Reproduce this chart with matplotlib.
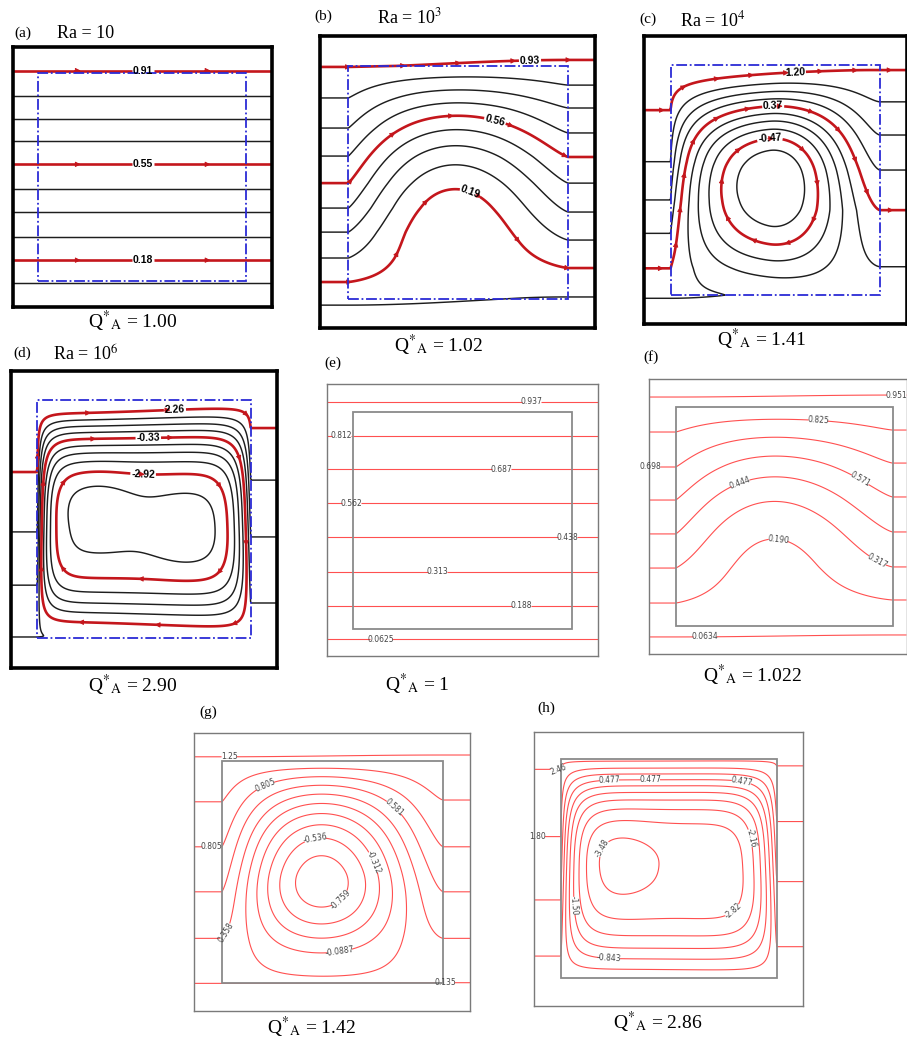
import numpy as np
import matplotlib
matplotlib.use("Agg")
import matplotlib.pyplot as plt
from matplotlib.patches import Rectangle

plt.rcParams['font.family'] = ['Liberation Serif', 'DejaVu Serif']
plt.rcParams['mathtext.fontset'] = 'stix'
plt.rcParams['contour.negative_linestyle'] = 'solid'

W, H = 907, 1038

# ---- values ----
# y of each streamline where it meets the left / right side (box height = 1)
a_levels = [0.09, 0.18, 0.27, 0.36, 0.45, 0.55, 0.64, 0.73, 0.82, 0.91]
a_left_y = [-0.01, 0.10, 0.21, 0.33, 0.44, 0.56, 0.67, 0.78, 0.89, 1.01]
a_red = [0.18, 0.55, 0.91]

b_levels = [0.10, 0.19, 0.28, 0.375, 0.47, 0.56, 0.65, 0.745, 0.84, 0.93]
b_left_y = [-0.025, 0.074, 0.177, 0.288, 0.391, 0.498, 0.614, 0.734, 0.863, 0.996]
b_right_y = [0.01, 0.134, 0.254, 0.374, 0.498, 0.61, 0.713, 0.82, 0.918, 1.026]
b_red = [0.19, 0.56, 0.93]

c_levels = [-0.68, -0.47, -0.26, -0.05, 0.16, 0.37, 0.58, 0.785, 0.99, 1.20]
c_through = [0.16, 0.37, 0.58, 0.785, 0.99, 1.20]
c_left_y = [-0.013, 0.117, 0.269, 0.414, 0.58, 0.804]
c_right_y = [0.124, 0.37, 0.544, 0.696, 0.84, 0.978]
c_red = [-0.47, 0.37, 1.20]

d_levels = [-3.57, -2.92, -2.27, -1.62, -0.98, -0.33, 0.32, 0.97, 1.61, 2.26]
d_through = [0.32, 0.97, 1.61, 2.26]
d_left_y = [0.003, 0.221, 0.445, 0.697]
d_right_y = [0.146, 0.424, 0.663, 0.882]
d_red = [-2.92, -0.33, 2.26]

e_levels = [0.0625, 0.1875, 0.3125, 0.4375, 0.5625, 0.6875, 0.8125, 0.9375]
e_text = ['0.0625', '0.188', '0.313', '0.438', '0.562', '0.687', '0.812', '0.937']
e_left_y = [-0.047, 0.107, 0.264, 0.422, 0.578, 0.736, 0.89, 1.046]

f_levels = [0.0634, 0.190, 0.317, 0.444, 0.571, 0.698, 0.825, 0.951]
f_text = ['0.0634', '0.190', '0.317', '0.444', '0.571', '0.698', '0.825', '0.951']
f_left_y = [-0.05, 0.105, 0.265, 0.421, 0.576, 0.727, 0.887, 1.047]
f_right_y = [-0.041, 0.119, 0.27, 0.43, 0.59, 0.745, 0.896, 1.056]

g_levels = [-0.759, -0.536, -0.312, -0.0887, 0.135, 0.358, 0.581, 0.805, 1.03, 1.25]
g_text = ['-0.759', '-0.536', '-0.312', '-0.0887', '0.135', '0.358', '0.581', '0.805', '1.03', '1.25']
g_through = [0.135, 0.358, 0.581, 0.805, 1.03, 1.25]
g_left_y = [-0.003, 0.20, 0.41, 0.613, 0.816, 1.019]
g_right_y = [0.0, 0.20, 0.41, 0.613, 0.824, 1.027]

h_levels = [-3.48, -2.82, -2.16, -1.50, -0.843, -0.183, 0.477, 1.14, 1.80, 2.46]
h_text = ['-3.48', '-2.82', '-2.16', '-1.50', '-0.843', '-0.183', '0.477', '1.14', '1.80', '2.46']
h_through = [0.477, 1.14, 1.80, 2.46]
h_left_y = [0.099, 0.356, 0.646, 0.954]
h_right_y = [0.142, 0.44, 0.715, 0.97]

titles = ['(a)', '(b)', '(c)', '(d)', '(e)', '(f)', '(g)', '(h)']
ra_text = ['Ra = 10', r'Ra = 10$^{3}$', r'Ra = 10$^{4}$', r'Ra = 10$^{6}$']
q_values = ['1.00', '1.02', '1.41', '2.90', '1', '1.022', '1.42', '2.86']

# ---- layout: outer frame and porous box in pixels (x0, y0, x1, y1) ----
OUTER = [(12.7, 47.3, 271.7, 307.3), (320, 36, 595, 328), (644, 36, 906.5, 324),
         (10.7, 370.7, 276.7, 668.3), (326.7, 384, 598.3, 656), (649, 379.3, 906.5, 654),
         (194.3, 732.7, 470, 1011), (534.3, 731.7, 803.3, 1006)]
INNER = [(38.3, 72.7, 245.7, 281), (348.3, 66, 568.3, 299.3), (670.7, 65, 880, 295.3),
         (37.3, 400, 250.7, 637.7), (353.3, 411.7, 571.7, 629), (675.7, 407.3, 892.7, 626),
         (221.7, 761, 443.3, 982.7), (560.7, 759.3, 776.7, 977.7)]
TITLE_XY = [(23, 33), (323, 16), (648, 19), (22, 353), (333, 363), (651, 357), (208, 712), (546, 708)]
RA_XY = [(57, 33), (377, 17), (680, 20), (53, 355)]
CAP_XY = [(133, 321), (439, 345), (762, 339), (133, 685), (417, 684), (752, 675), (312, 1027), (658, 1022)]


def lin_interp(y, yp, fp):
    yp = np.asarray(yp, float)
    fp = np.asarray(fp, float)
    out = np.interp(y, yp, fp)
    out = np.where(y < yp[0], fp[0] + (y - yp[0]) * (fp[1] - fp[0]) / (yp[1] - yp[0]), out)
    out = np.where(y > yp[-1], fp[-1] + (y - yp[-1]) * (fp[-1] - fp[-2]) / (yp[-1] - yp[-2]), out)
    return out


def through(X, Y, lev, yl, yr):
    L = lin_interp(Y, yl, lev)
    R = lin_interp(Y, yr, lev)
    s = np.clip(X, 0, 1)
    w = s * s * (3 - 2 * s)
    return (1 - w) * L + w * R


def side_pow(base, t, p):
    return np.where(t < 0.5, base ** p[0], base ** p[1])


def cell_shape(X, Y, xc, yc, kind, m, px, py):
    inside = (X > 0) & (X < 1) & (Y > 0) & (Y < 1)
    xs = np.clip(X, 1e-9, 1) ** (np.log(0.5) / np.log(xc))
    ys = np.clip(Y, 1e-9, 1) ** (np.log(0.5) / np.log(yc))
    if kind == 'sin':
        F = np.clip(np.sin(np.pi * xs), 0, 1)
        G = np.clip(np.sin(np.pi * ys), 0, 1)
    else:
        F = np.clip(1 - np.abs(2 * xs - 1) ** m[0], 0, 1)
        G = np.clip(1 - np.abs(2 * ys - 1) ** m[1], 0, 1)
    F = side_pow(F, xs, px)
    G = side_pow(G, ys, py)
    return np.where(inside, F * G, 0.0)


def stream(X, Y, lev, yl, yr, amp=0.0, xc=0.5, yc=0.5, kind='sin', m=(2, 2),
           px=(1, 1), py=(1, 1), s=0.0, lobes=()):
    T = through(X, Y, lev, yl, yr)
    if amp == 0:
        return T
    S = cell_shape(X, Y, xc, yc, kind, m, px, py)
    Tc = through(np.array(xc), np.array(yc), lev, yl, yr)
    M = np.ones_like(X)
    for (lx, ly, r, hgt) in lobes:
        M += hgt * np.exp(-((X - lx) ** 2 + (Y - ly) ** 2) / r ** 2)
    return T + S * (s * (Tc - T) - amp * M)


def make_axes(fig, k):
    ox0, oy0, ox1, oy1 = OUTER[k]
    ix0, iy0, ix1, iy1 = INNER[k]
    ax = fig.add_axes([ox0 / W, 1 - oy1 / H, (ox1 - ox0) / W, (oy1 - oy0) / H])
    sx = ix1 - ix0
    sy = iy1 - iy0
    ax.set_xlim((ox0 - ix0) / sx, (ox1 - ix0) / sx)
    ax.set_ylim((iy1 - oy1) / sy, (iy1 - oy0) / sy)
    ax.set_xticks([])
    ax.set_yticks([])
    xv = np.linspace(*ax.get_xlim(), 460)
    yv = np.linspace(*ax.get_ylim(), 460)
    X, Y = np.meshgrid(xv, yv)
    return ax, X, Y


def add_arrows(ax, cs, X, Y, psi, step, color):
    dx = X[0, 1] - X[0, 0]
    dy = Y[1, 0] - Y[0, 0]
    gy, gx = np.gradient(psi, dy, dx)
    for segs in cs.allsegs:
        for seg in segs:
            if len(seg) < 6:
                continue
            d = np.hypot(*np.diff(seg, axis=0).T)
            s = np.concatenate([[0], np.cumsum(d)])
            n = int(s[-1] / step)
            for k in range(n):
                t0 = (k + 0.5) * s[-1] / n
                i = int(np.clip(np.searchsorted(s, t0), 1, len(seg) - 2))
                p = seg[i]
                tv = seg[i + 1] - seg[i - 1]
                tv = tv / np.hypot(*tv)
                jx = int(np.clip(round((p[0] - X[0, 0]) / dx), 0, X.shape[1] - 1))
                jy = int(np.clip(round((p[1] - Y[0, 0]) / dy), 0, Y.shape[0] - 1))
                u, v = gy[jy, jx], -gx[jy, jx]
                if tv[0] * u + tv[1] * v < 0:
                    tv = -tv
                ax.annotate('', xy=p + tv * 0.015, xytext=p - tv * 0.015,
                            arrowprops=dict(arrowstyle='-|>', color=color, lw=0.6,
                                            mutation_scale=8, shrinkA=0, shrinkB=0))


def top_panel(fig, k, psi_args, levels, red, label_pos, fmt, step):
    ax, X, Y = make_axes(fig, k)
    psi = stream(X, Y, **psi_args)
    black = [l for l in levels if l not in red]
    ax.contour(X, Y, psi, levels=sorted(black), colors='#1e1e1e', linewidths=1.05)
    csr = ax.contour(X, Y, psi, levels=sorted(red), colors='#c4161c', linewidths=1.9)
    add_arrows(ax, csr, X, Y, psi, step, '#c4161c')
    txt = ax.clabel(csr, manual=label_pos, fmt=fmt, inline=True, inline_spacing=2,
                    fontsize=7.5, colors='k')
    for t in txt:
        t.set_family('Liberation Sans')
        t.set_fontweight('bold')
    ax.add_patch(Rectangle((0, 0), 1, 1, fill=False, ec='#2b2bd6', lw=1.3,
                           ls=(0, (6, 1.5, 1, 1.5)), zorder=3))
    for sp in ax.spines.values():
        sp.set_linewidth(2.6)
        sp.set_color('k')
    return ax


def bottom_panel(fig, k, psi_args, levels, texts, label_pos):
    ax, X, Y = make_axes(fig, k)
    psi = stream(X, Y, **psi_args)
    cs = ax.contour(X, Y, psi, levels=levels, colors='#ff5050', linewidths=0.8)
    txt = ax.clabel(cs, manual=label_pos, fmt=dict(zip(cs.levels, texts)), inline=True,
                    inline_spacing=1, fontsize=5.5, colors='#444444')
    for t in txt:
        t.set_family('DejaVu Sans')
        t.set_clip_on(False)
    ax.add_patch(Rectangle((0, 0), 1, 1, fill=False, ec='#8a8a8a', lw=1.3, zorder=3))
    for sp in ax.spines.values():
        sp.set_linewidth(1.0)
        sp.set_color('#7a7a7a')
    return ax


fig = plt.figure(figsize=(W / 100, H / 100), dpi=100)

# (a)
top_panel(fig, 0, dict(lev=a_levels, yl=a_left_y, yr=a_left_y), a_levels, a_red,
          [(0.505, 1.01), (0.505, 0.557), (0.505, 0.104)],
          {0.18: '0.18', 0.55: '0.55', 0.91: '0.91'}, 0.42)
# (b)
top_panel(fig, 1, dict(lev=b_levels, yl=b_left_y, yr=b_right_y, amp=0.31, xc=0.45,
                       yc=0.5, px=(1.3, 1.3), py=(1.4, 1.0)),
          b_levels, b_red, [(0.826, 1.02), (0.656, 0.726), (0.53, 0.397)],
          {0.19: '0.19', 0.56: '0.56', 0.93: '0.93'}, 0.25)
# (c)
top_panel(fig, 2, dict(lev=c_through, yl=c_left_y, yr=c_right_y, amp=1.65, xc=0.47,
                       yc=0.55, px=(0.8, 1.6), py=(1.0, 1.6)),
          c_levels, c_red, [(0.594, 0.961), (0.49, 0.812), (0.474, 0.677)],
          {-0.47: '-0.47', 0.37: '0.37', 1.20: '1.20'}, 0.15)
# (d)
top_panel(fig, 3, dict(lev=d_through, yl=d_left_y, yr=d_right_y, amp=5.0, xc=0.47,
                       yc=0.47, kind='flat', m=(8, 3), py=(1.84, 1.84), s=1.0,
                       lobes=[(0.28, 0.57, 0.17, 0.08), (0.71, 0.45, 0.17, 0.08)]),
          d_levels, d_red, [(0.645, 0.958), (0.52, 0.846), (0.497, 0.713)],
          {-2.92: '-2.92', -0.33: '-0.33', 2.26: '2.26'}, 0.35)
# (e)
bottom_panel(fig, 4, dict(lev=e_levels, yl=e_left_y, yr=e_left_y), e_levels, e_text,
             [(0.127, -0.047), (0.768, 0.107), (0.385, 0.266), (0.979, 0.422),
              (-0.007, 0.575), (0.679, 0.73), (-0.053, 0.89), (0.817, 1.046)])
# (f)
bottom_panel(fig, 5, dict(lev=f_levels, yl=f_left_y, yr=f_right_y, amp=0.25, xc=0.45,
                          yc=0.5, px=(1.3, 1.3), py=(1.4, 1.0)),
             f_levels, f_text,
             [(0.135, -0.05), (0.473, 0.401), (0.926, 0.294), (0.30, 0.649),
              (0.839, 0.649), (-0.115, 0.73), (0.655, 0.917), (1.018, 1.05)])
# (g)
bottom_panel(fig, 6, dict(lev=g_through, yl=g_left_y, yr=g_right_y, amp=1.56, xc=0.45,
                          yc=0.5, px=(1.5, 1.5), py=(1.6, 1.0)),
             g_levels, g_text,
             [(0.516, 0.399), (0.421, 0.654), (0.707, 0.553), (0.534, 0.129),
              (1.008, 0.018), (0.037, 0.219), (0.778, 0.79), (-0.045, 0.573),
              (0.192, 0.899), (0.034, 0.997)])
# (h)
bottom_panel(fig, 7, dict(lev=h_through, yl=h_left_y, yr=h_right_y, amp=4.7, xc=0.48,
                          yc=0.5, kind='flat', m=(6, 3), py=(1.3, 1.45), s=1.0,
                          lobes=[(0.26, 0.53, 0.18, 0.11), (0.75, 0.45, 0.16, 0.02)]),
             h_levels, h_text,
             [(0.167, 0.606), (0.808, 0.293), (0.881, 0.639), (0.069, 0.33),
              (0.225, 0.088), (0.225, 0.891), (0.834, 0.884), (0.415, 0.903),
              (-0.108, 0.684), (-0.011, 0.943)])

for k in range(8):
    x, y = TITLE_XY[k]
    fig.text(x / W, 1 - y / H, titles[k], fontsize=11, ha='center', va='center')
    x, y = CAP_XY[k]
    fig.text(x / W, 1 - y / H, r'Q$^{*}{}_{\mathrm{A}}$ = ' + q_values[k], fontsize=14,
             ha='center', va='center')
for k in range(4):
    x, y = RA_XY[k]
    fig.text(x / W, 1 - y / H, ra_text[k], fontsize=13, ha='left', va='center')

fig.savefig('out.png', dpi=100)
